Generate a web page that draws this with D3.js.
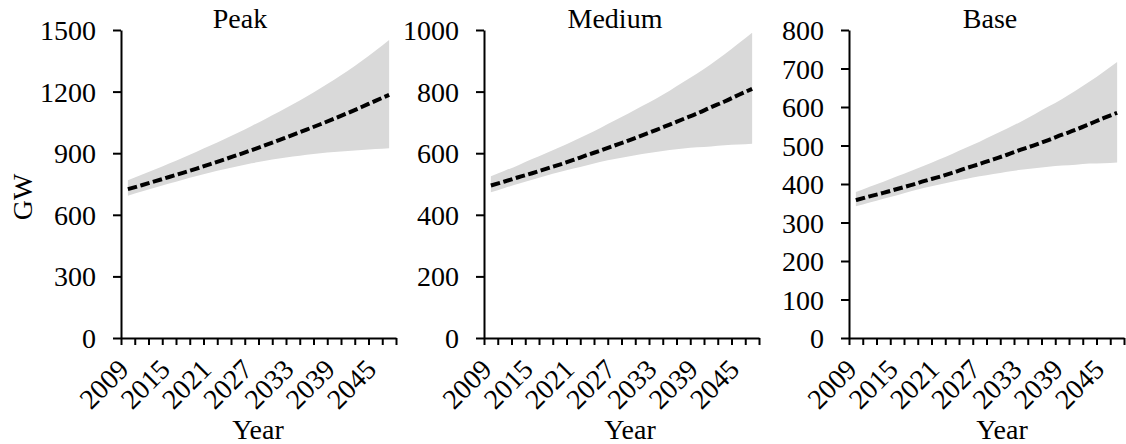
<!DOCTYPE html>
<html>
<head>
<meta charset="utf-8">
<script src="https://cdn.jsdelivr.net/npm/d3@7"></script>
<style>
body { margin: 0; background: #fff; }
svg text { font-family: "Liberation Serif", "Times New Roman", serif; fill: #000; }
</style>
</head>
<body>
<script>
//three panel projection chart: mean (dashed) with uncertainty band (grey)

(function(){

//data
var years = [2010, 2012, 2014, 2016, 2018, 2020, 2022, 2024, 2026, 2028,
             2030, 2032, 2034, 2036, 2038, 2040, 2042, 2044, 2046, 2048];

var peakMean  = [725, 744, 764, 784, 804, 825, 847, 869, 892, 915, 939, 964, 989, 1015, 1041, 1068, 1096, 1125, 1155, 1184];
var peakUpper = [768, 795, 822, 850, 878, 907, 937, 968, 1000, 1033, 1067, 1102, 1138, 1176, 1216, 1258, 1302, 1349, 1399, 1451];
var peakLower = [693, 713, 733, 752, 771, 789, 806, 822, 837, 851, 863, 874, 884, 893, 900, 906, 911, 916, 920, 924];

var mediumMean  = [495, 508, 522, 535, 549, 563, 578, 594, 609, 625, 641, 658, 675, 693, 711, 729, 749, 768, 789, 809];
var mediumUpper = [525, 543, 561, 581, 600, 619, 640, 661, 683, 706, 729, 753, 777, 803, 831, 859, 889, 921, 956, 991];
var mediumLower = [473, 487, 501, 514, 527, 539, 550, 561, 572, 581, 589, 597, 604, 610, 615, 619, 622, 626, 628, 631];

var baseMean  = [358, 368, 377, 387, 397, 408, 418, 429, 441, 452, 464, 476, 489, 501, 514, 528, 541, 556, 571, 585];
var baseUpper = [379, 393, 406, 420, 434, 448, 463, 478, 494, 510, 527, 544, 562, 581, 601, 621, 643, 666, 691, 717];
var baseLower = [342, 352, 362, 371, 381, 390, 398, 406, 413, 420, 426, 432, 437, 441, 445, 448, 450, 453, 454, 456];

var titles = ["Peak", "Medium", "Base"];
var peakTicks = [0, 300, 600, 900, 1200, 1500];
var mediumTicks = [0, 200, 400, 600, 800, 1000];
var baseTicks = [0, 100, 200, 300, 400, 500, 600, 700, 800];

var tickYears = [2009, 2011, 2013, 2015, 2017, 2019, 2021, 2023, 2025, 2027, 2029,
                 2031, 2033, 2035, 2037, 2039, 2041, 2043, 2045, 2047, 2049];
var labelYears = [2009, 2015, 2021, 2027, 2033, 2039, 2045];

//layout
var width = 1126,
    height = 444,
    plotTop = 30,
    plotBottom = 338,
    plotWidth = 275,
    fontSize = 28;
var panelLeft = [121, 484, 849];
var titleX = [240, 615, 990];
var yearX = [258, 630, 1002];

var svg = d3.select("body")
    .append("svg")
    .attr("width", width)
    .attr("height", height);

var panelData = [
    {mean: peakMean, upper: peakUpper, lower: peakLower, ticks: peakTicks},
    {mean: mediumMean, upper: mediumUpper, lower: mediumLower, ticks: mediumTicks},
    {mean: baseMean, upper: baseUpper, lower: baseLower, ticks: baseTicks}
];

panelData.forEach(function(p, i){
    drawPanel(p, i);
});

//y axis title, only once on the left
svg.append("text")
    .attr("transform", "translate(32,197) rotate(-90)")
    .attr("text-anchor", "middle")
    .attr("font-size", fontSize)
    .text("GW");

function drawPanel(p, i){
    var x0 = panelLeft[i];
    var yMax = p.ticks[p.ticks.length - 1];

    var x = d3.scaleLinear()
        .domain([tickYears[0], tickYears[tickYears.length - 1]])
        .range([x0, x0 + plotWidth]);

    var y = d3.scaleLinear()
        .domain([0, yMax])
        .range([plotBottom, plotTop]);

    var rows = years.map(function(yr, k){
        return {year: yr, mean: p.mean[k], upper: p.upper[k], lower: p.lower[k]};
    });

    //grey band
    var area = d3.area()
        .x(function(d){ return x(d.year); })
        .y0(function(d){ return y(d.lower); })
        .y1(function(d){ return y(d.upper); })
        .curve(d3.curveMonotoneX);

    svg.append("path")
        .datum(rows)
        .attr("d", area)
        .attr("fill", "#d9d9d9");

    //dashed mean line
    var line = d3.line()
        .x(function(d){ return x(d.year); })
        .y(function(d){ return y(d.mean); })
        .curve(d3.curveMonotoneX);

    svg.append("path")
        .datum(rows)
        .attr("d", line)
        .attr("fill", "none")
        .attr("stroke", "#000")
        .attr("stroke-width", 4)
        .attr("stroke-dasharray", "9.5,3.5");

    //y axis
    var yAxis = svg.append("g")
        .attr("transform", "translate(" + x0 + ",0)")
        .call(d3.axisLeft(y)
            .tickValues(p.ticks)
            .tickSize(8)
            .tickSizeOuter(0)
            .tickPadding(17)
            .tickFormat(d3.format("d")));
    styleAxis(yAxis);
    yAxis.selectAll("text").attr("dy", "0.34em");

    //x axis
    var xAxis = svg.append("g")
        .attr("transform", "translate(0," + plotBottom + ")")
        .call(d3.axisBottom(x)
            .tickValues(tickYears)
            .tickSize(7)
            .tickSizeOuter(0)
            .tickFormat(function(d){
                return labelYears.indexOf(d) >= 0 ? d : "";
            }));
    styleAxis(xAxis);
    xAxis.selectAll("text")
        .attr("y", 0)
        .attr("dy", 0)
        .attr("text-anchor", "end")
        .attr("transform", "translate(9,33) rotate(-45)");

    //panel title
    svg.append("text")
        .attr("x", titleX[i])
        .attr("y", 28)
        .attr("text-anchor", "middle")
        .attr("font-size", fontSize)
        .text(titles[i]);

    //x axis title
    svg.append("text")
        .attr("x", yearX[i])
        .attr("y", 439)
        .attr("text-anchor", "middle")
        .attr("font-size", fontSize)
        .text("Year");
}

function styleAxis(g){
    g.attr("font-size", fontSize)
        .attr("font-family", null);
    g.select(".domain")
        .attr("stroke", "#000")
        .attr("stroke-width", 2);
    g.selectAll(".tick line")
        .attr("stroke", "#000")
        .attr("stroke-width", 2);
}

})();
</script>
</body>
</html>
